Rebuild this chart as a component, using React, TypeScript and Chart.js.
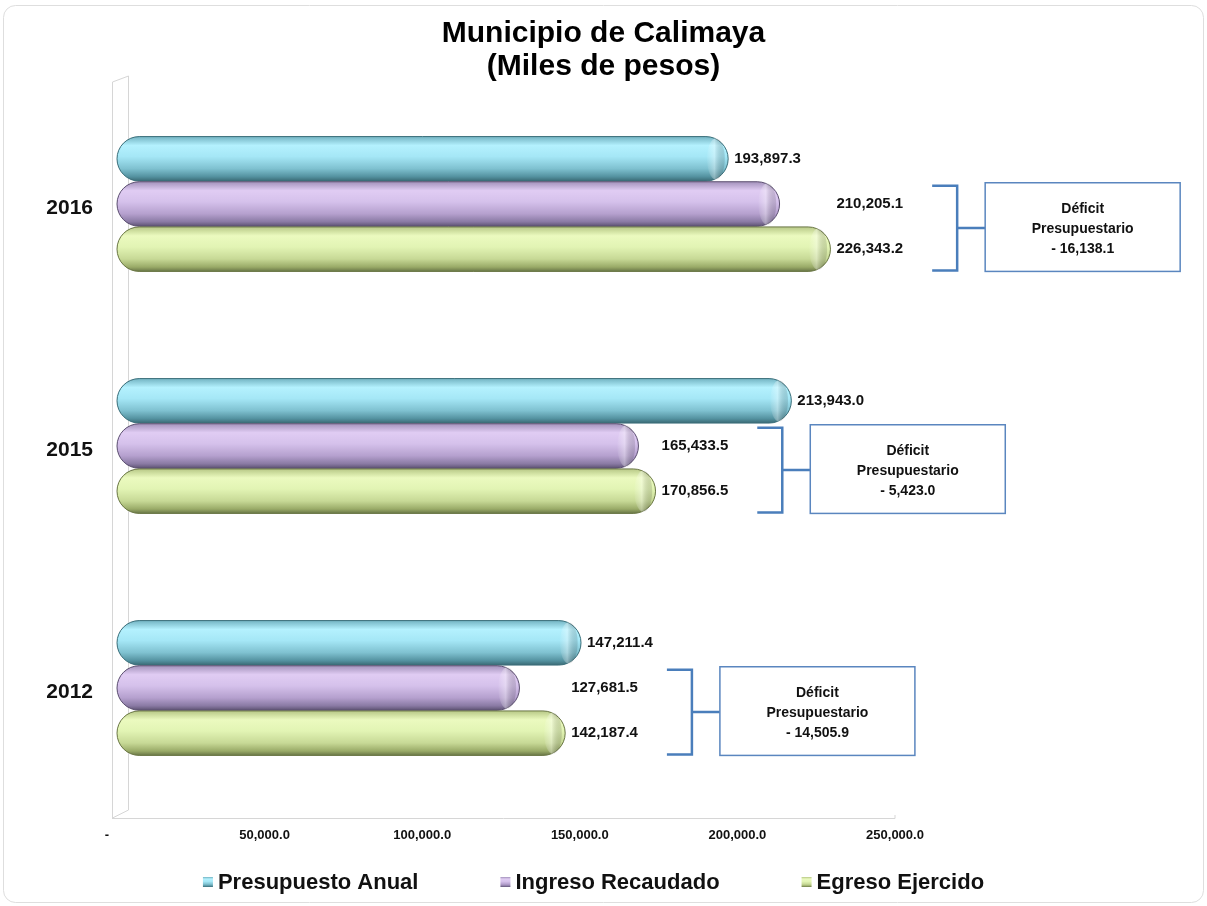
import React, { useEffect, useRef } from 'react';
import { Chart, registerables } from 'chart.js';

Chart.register(...registerables);

// ---- data ----
const years = ['2016', '2015', '2012'];
const seriesNames = ['Presupuesto Anual', 'Ingreso Recaudado', 'Egreso Ejercido'];
const presupuestoAnual = [193897.3, 213943.0, 147211.4];
const ingresoRecaudado = [210205.1, 165433.5, 127681.5];
const egresoEjercido = [226343.2, 170856.5, 142187.4];
const deficitPresupuestario = [-16138.1, -5423.0, -14505.9];
const xTickValues = [0, 50000, 100000, 150000, 200000, 250000];
const titleLines = ['Municipio de Calimaya', '(Miles de pesos)'];
const deficitLabelLines = ['Déficit', 'Presupuestario'];

// ---- styles ----
const FONT = "'Liberation Sans', Arial, sans-serif";
const palettes = [
  { base: '#8fd6e6', edge: '#3d6f7a', stops: ['#72b3c2', '#b4f1fe', '#a5e7f6', '#7fc1d0', '#5492a0', '#3a6a75'] },
  { base: '#c4b0de', edge: '#5c5070', stops: ['#a392bb', '#e0ccf3', '#d5c1eb', '#b5a0ce', '#8a7aa4', '#5d5272'] },
  { base: '#d8eca6', edge: '#6a7646', stops: ['#b7c886', '#ebfabf', '#e2f4b4', '#c7d996', '#9aab68', '#697647'] },
];
const gradPos = [0, 0.2, 0.45, 0.72, 0.9, 1];
const BRACKET_COLOR = '#4a7ebb';

const fmt = (v: number) =>
  v.toLocaleString('en-US', { minimumFractionDigits: 1, maximumFractionDigits: 1 });

function vGrad(ctx: CanvasRenderingContext2D, top: number, bottom: number, stops: string[]) {
  const g = ctx.createLinearGradient(0, top, 0, bottom);
  stops.forEach((c, i) => g.addColorStop(gradPos[i], c));
  return g;
}

const framePlugin = {
  id: 'frameWall',
  beforeDraw(chart: any) {
    const ctx = chart.ctx as CanvasRenderingContext2D;
    ctx.save();
    ctx.fillStyle = '#ffffff';
    ctx.fillRect(0, 0, chart.width, chart.height);
    ctx.beginPath();
    ctx.roundRect(3.5, 5.5, chart.width - 7, chart.height - 9, 12);
    ctx.strokeStyle = '#dedede';
    ctx.lineWidth = 1;
    ctx.stroke();
    ctx.restore();
  },
  beforeDatasetsDraw(chart: any) {
    const ctx = chart.ctx as CanvasRenderingContext2D;
    const a = chart.chartArea;
    const fx = a.left - 5;
    const bx = a.left + 11;
    ctx.save();
    ctx.strokeStyle = '#d6d6d6';
    ctx.lineWidth = 1;
    ctx.beginPath();
    ctx.moveTo(fx + 0.5, a.bottom + 9);
    ctx.lineTo(fx + 0.5, a.top - 1);
    ctx.lineTo(bx + 0.5, a.top - 7);
    ctx.lineTo(bx + 0.5, a.bottom + 1);
    ctx.lineTo(fx + 0.5, a.bottom + 9);
    ctx.moveTo(fx, a.bottom + 9.5);
    ctx.lineTo(a.right - 10, a.bottom + 9.5);
    ctx.lineTo(a.right - 10, a.bottom + 6);
    ctx.stroke();
    ctx.restore();
  },
};

const barsPlugin = {
  id: 'cylinders',
  afterDatasetsDraw(chart: any) {
    const ctx = chart.ctx as CanvasRenderingContext2D;
    chart.data.datasets.forEach((_ds: any, di: number) => {
      const meta = chart.getDatasetMeta(di);
      const pal = palettes[di];
      meta.data.forEach((el: any) => {
        const p = el.getProps(['x', 'y', 'base', 'height'], true);
        const left = Math.min(p.x, p.base);
        const right = Math.max(p.x, p.base);
        const top = p.y - p.height / 2;
        const h = p.height;
        const r = Math.min(h / 2, (right - left) / 2);
        ctx.save();
        ctx.beginPath();
        ctx.roundRect(left, top, right - left, h, r);
        ctx.fillStyle = vGrad(ctx, top, top + h, pal.stops);
        ctx.fill();
        ctx.lineWidth = 1;
        ctx.strokeStyle = pal.edge;
        ctx.stroke();
        // end cap highlight
        ctx.beginPath();
        ctx.ellipse(right - r * 0.55, p.y, r * 0.4, r * 0.93, 0, 0, Math.PI * 2);
        const cg = ctx.createLinearGradient(right - r, 0, right - r * 0.15, 0);
        cg.addColorStop(0, 'rgba(255,255,255,0.0)');
        cg.addColorStop(0.45, 'rgba(255,255,255,0.35)');
        cg.addColorStop(1, 'rgba(0,0,0,0.12)');
        ctx.fillStyle = cg;
        ctx.fill();
        ctx.restore();
      });
    });
  },
  afterDraw(chart: any) {
    const ctx = chart.ctx as CanvasRenderingContext2D;
    const metas = [0, 1, 2].map((i) => chart.getDatasetMeta(i));
    const end = (el: any) => {
      const p = el.getProps(['x', 'base'], true);
      return Math.max(p.x, p.base);
    };
    ctx.save();
    ctx.textBaseline = 'middle';
    ctx.textAlign = 'left';
    years.forEach((_y, i) => {
      const e0 = metas[0].data[i];
      const e1 = metas[1].data[i];
      const e2 = metas[2].data[i];
      const vals = chart.data.datasets.map((d: any) => d.data[i]);
      ctx.fillStyle = '#111111';
      ctx.font = `bold 15px ${FONT}`;
      ctx.fillText(fmt(vals[0]), end(e0) + 6, e0.y);
      const lx = Math.max(end(e1), end(e2)) + 6;
      const t1 = fmt(vals[1]);
      const t2 = fmt(vals[2]);
      ctx.fillText(t1, lx, e1.y);
      ctx.fillText(t2, lx, e2.y);
      const labelEnd = lx + Math.max(ctx.measureText(t1).width, ctx.measureText(t2).width);
      // bracket
      const h1 = e1.getProps(['height'], true).height;
      const h2 = e2.getProps(['height'], true).height;
      const yTop = e1.y - h1 / 2 + 4;
      const yBot = e2.y + h2 / 2 - 1;
      const mid = (yTop + yBot) / 2;
      const tipX = labelEnd + 29;
      const vx = tipX + 25;
      const boxX = vx + 28;
      ctx.strokeStyle = BRACKET_COLOR;
      ctx.lineWidth = 2.5;
      ctx.beginPath();
      ctx.moveTo(tipX, yTop);
      ctx.lineTo(vx, yTop);
      ctx.lineTo(vx, yBot);
      ctx.lineTo(tipX, yBot);
      ctx.moveTo(vx, mid);
      ctx.lineTo(boxX, mid);
      ctx.stroke();
      // box
      const bw = 195;
      const bTop = yTop - 3;
      const bH = yBot - yTop + 4;
      ctx.fillStyle = '#ffffff';
      ctx.fillRect(boxX, bTop, bw, bH);
      ctx.lineWidth = 1.5;
      ctx.strokeStyle = '#5a86bf';
      ctx.strokeRect(boxX, bTop, bw, bH);
      ctx.fillStyle = '#111111';
      ctx.font = `bold 14px ${FONT}`;
      ctx.textAlign = 'center';
      const cx = boxX + bw / 2;
      const lines = [...deficitLabelLines, '- ' + fmt(Math.abs(deficitPresupuestario[i]))];
      lines.forEach((ln, k) => ctx.fillText(ln, cx, mid + 1 + (k - 1) * 20));
      ctx.textAlign = 'left';
    });
    // legend
    ctx.font = `bold 22px ${FONT}`;
    const gap = 82;
    const mark = 10;
    const items = chart.data.datasets.map((d: any) => ({
      label: d.label,
      w: ctx.measureText(d.label).width,
    }));
    const total = items.reduce((s: number, it: any) => s + mark + 5 + it.w, 0) + gap * (items.length - 1);
    let x = chart.width / 2 - 10 - total / 2;
    const ly = 882;
    items.forEach((it: any, k: number) => {
      ctx.fillStyle = vGrad(ctx, ly - mark / 2, ly + mark / 2, palettes[k].stops);
      ctx.fillRect(x, ly - mark / 2, mark, mark);
      ctx.fillStyle = '#111111';
      ctx.textBaseline = 'middle';
      ctx.fillText(it.label, x + mark + 5, ly + 1);
      x += mark + 5 + it.w + gap;
    });
    ctx.restore();
  },
};

export default function App() {
  const ref = useRef<HTMLCanvasElement | null>(null);
  useEffect(() => {
    if (!ref.current) return;
    const seriesData = [presupuestoAnual, ingresoRecaudado, egresoEjercido];
    const chart = new Chart(ref.current, {
      type: 'bar',
      data: {
        labels: years,
        datasets: seriesData.map((d, i) => ({
          label: seriesNames[i],
          data: d,
          backgroundColor: palettes[i].base,
          borderRadius: 40,
          borderSkipped: false,
          categoryPercentage: 0.56,
          barPercentage: 0.985,
        })),
      },
      options: {
        indexAxis: 'y',
        responsive: false,
        animation: false,
        layout: { padding: 0 },
        plugins: {
          legend: { display: false },
          tooltip: { enabled: false },
          title: {
            display: true,
            text: titleLines,
            color: '#000000',
            font: { family: FONT, size: 30, weight: 'bold', lineHeight: 1.1 },
            padding: { top: 17, bottom: 0 },
          },
        },
        scales: {
          x: {
            type: 'linear',
            min: 0,
            max: 250000,
            afterBuildTicks: (s: any) => {
              s.ticks = xTickValues.map((v) => ({ value: v }));
            },
            afterFit: (s: any) => {
              s.height = 97;
            },
            ticks: {
              callback: (v: any) => (Number(v) === 0 ? '-' : fmt(Number(v))),
              font: { family: FONT, size: 13, weight: 'bold' },
              color: '#111111',
              padding: 19,
              labelOffset: -10,
              maxRotation: 0,
              autoSkip: false,
            },
            grid: { display: false, drawTicks: false },
            border: { display: false },
          },
          y: {
            type: 'category',
            afterFit: (s: any) => {
              s.width = 117;
            },
            ticks: {
              font: { family: FONT, size: 21, weight: 'bold' },
              color: '#111111',
              padding: 24,
              labelOffset: 4,
            },
            grid: { display: false, drawTicks: false },
            border: { display: false },
          },
          yRight: {
            type: 'linear',
            axis: 'y',
            position: 'right',
            display: true,
            afterFit: (s: any) => {
              s.width = 302;
            },
            ticks: { display: false },
            grid: { display: false, drawTicks: false },
            border: { display: false },
          },
        },
      } as any,
      plugins: [framePlugin, barsPlugin],
    });
    return () => chart.destroy();
  }, []);
  return (
    <div style={{ position: 'absolute', left: 0, top: 0, width: 1207, height: 906 }}>
      <canvas ref={ref} width={1207} height={906} style={{ display: 'block' }} />
    </div>
  );
}
